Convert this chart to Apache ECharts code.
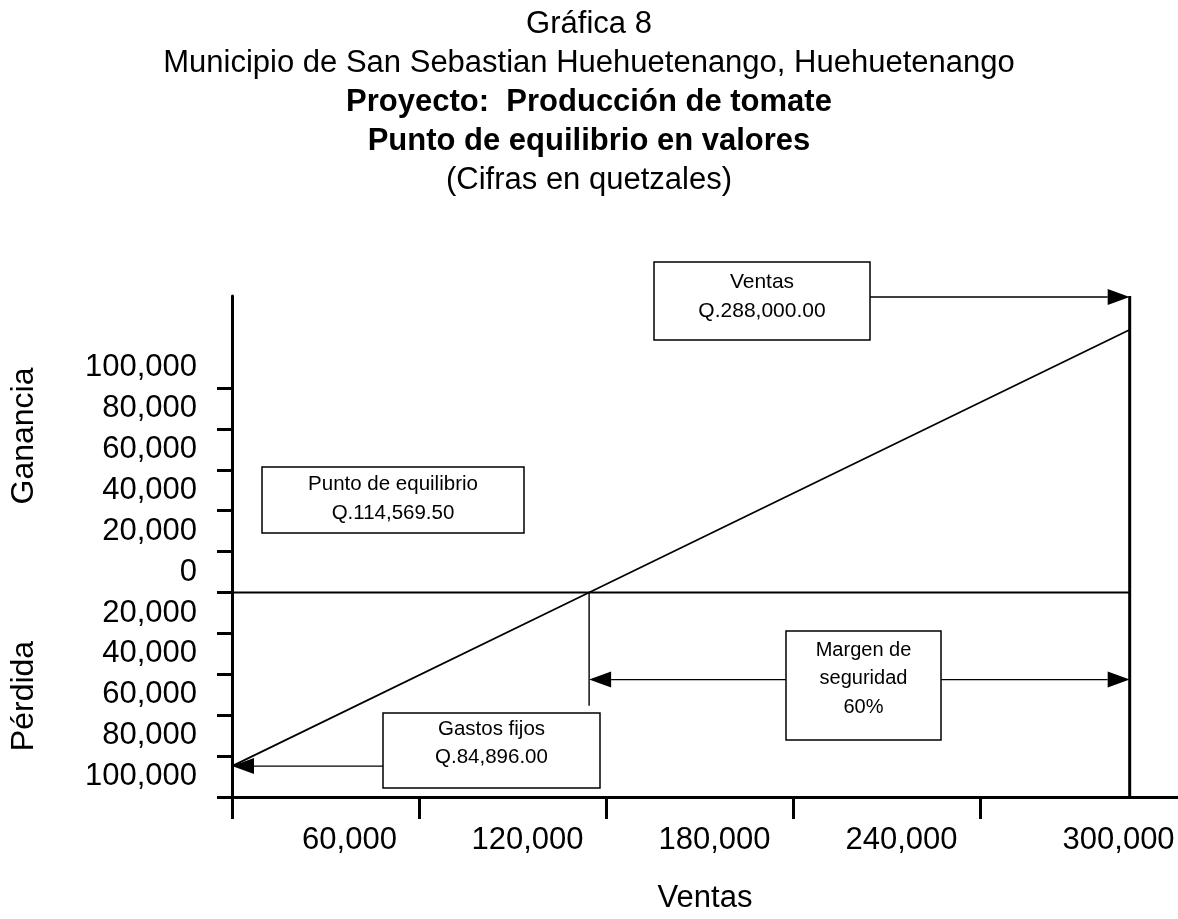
<!DOCTYPE html>
<html>
<head>
<meta charset="utf-8">
<title>Punto de equilibrio en valores</title>
<script src="https://cdn.jsdelivr.net/npm/echarts@6/dist/echarts.min.js"></script>
<style>
  html, body { margin: 0; padding: 0; background: #fff; }
  #chart { width: 1178px; height: 919px; }
</style>
</head>
<body>
<div id="chart"></div>
<script>
// ---- chart data ----
const titleLines = [
  'Gráfica 8',
  'Municipio de San Sebastian Huehuetenango, Huehuetenango',
  'Proyecto:  Producción de tomate',
  'Punto de equilibrio en valores',
  '(Cifras en quetzales)'
];
const boldTitleLines = [2, 3];

const salesTickValues = [0, 60000, 120000, 180000, 240000, 300000];
const salesTickLabels = ['60,000', '120,000', '180,000', '240,000', '300,000'];
const profitTickValues = [100000, 80000, 60000, 40000, 20000, 0, -20000, -40000, -60000, -80000, -100000];
const profitTickLabels = ['100,000', '80,000', '60,000', '40,000', '20,000', '0', '20,000', '40,000', '60,000', '80,000', '100,000'];

const ventas = 288000;            // total sales
const gastosFijos = 84896;        // fixed costs
const puntoEquilibrio = 114569.5; // break-even sales
const lineSales = [0, puntoEquilibrio, ventas];
const lineProfit = [-84896, 0, 128514];

// annotation levels (axis units)
const ventasArrowLevel = 144500;
const margenArrowLevel = -42600;
const equilibrioDropEnd = -55400;

// ---- helpers ----
const FONT = '"Liberation Sans", Arial, Helvetica, sans-serif';
function money(v) {
  const parts = v.toFixed(2).split('.');
  parts[0] = parts[0].replace(/\B(?=(\d{3})+(?!\d))/g, ',');
  return 'Q.' + parts.join('.');
}
const margenPct = Math.round((ventas - puntoEquilibrio) / ventas * 100);

const salesStep = salesTickValues[1] - salesTickValues[0];
const profitStep = profitTickValues[0] - profitTickValues[1];
// labels sit inside the band that ends at their tick
const xLabelValues = salesTickValues.slice(1).map(v => v - salesStep / 2);
const yLabelValues = profitTickValues.map(v => v + profitStep / 2);
const xLabelText = new Map(xLabelValues.map((v, i) => [v, salesTickLabels[i]]));
const yLabelText = new Map(yLabelValues.map((v, i) => [v, profitTickLabels[i]]));

const chart = echarts.init(document.getElementById('chart'), null, { renderer: 'canvas' });

// arrow segments: [fromSales, fromProfit, toSales, toProfit]
const arrows = [
  [204700, ventasArrowLevel, ventas, ventasArrowLevel],
  [48450, -gastosFijos, 0, -gastosFijos],
  [177800, margenArrowLevel, puntoEquilibrio, margenArrowLevel],
  [227500, margenArrowLevel, ventas, margenArrowLevel]
];

function box(x, y, w, h, lines, lineYs, size) {
  const children = [{
    type: 'rect', z: 100,
    shape: { x: x, y: y, width: w, height: h },
    style: { fill: '#fff', stroke: '#000', lineWidth: 1.5 }
  }];
  lines.forEach((t, i) => children.push({
    type: 'text', z: 101,
    style: {
      text: t, x: x + w / 2, y: lineYs[i], align: 'center', verticalAlign: 'middle',
      font: size + 'px ' + FONT, fill: '#000'
    }
  }));
  return { type: 'group', children: children };
}

const option = {
  backgroundColor: '#fff',
  animation: false,
  title: titleLines.map((t, i) => ({
    text: t,
    left: 'center',
    top: 9 + i * 39,
    padding: 0,
    textStyle: {
      fontFamily: FONT, fontSize: 31, color: '#000',
      fontWeight: boldTitleLines.includes(i) ? 'bold' : 'normal'
    }
  })),
  grid: { left: 232, right: 0, top: 296, bottom: 122, containLabel: false },
  xAxis: {
    type: 'value',
    min: 0,
    max: 303500,
    name: 'Ventas',
    nameLocation: 'middle',
    nameGap: 86,
    nameTextStyle: { fontFamily: FONT, fontSize: 31, color: '#000' },
    axisLine: { show: true, onZero: false, lineStyle: { color: '#000', width: 3 } },
    axisTick: {
      show: true, customValues: salesTickValues.slice(0, 5), length: 22,
      lineStyle: { color: '#000', width: 3 }
    },
    axisLabel: {
      customValues: xLabelValues,
      margin: 28,
      fontFamily: FONT, fontSize: 31, color: '#000',
      formatter: function (v) {
        const t = xLabelText.get(v) || '';
        if (t === salesTickLabels[0]) return '{c|' + t + '}';
        return t === salesTickLabels[salesTickLabels.length - 1] ? '{b|' + t + '}' : '{a|' + t + '}';
      },
      rich: {
        a: { fontFamily: FONT, fontSize: 31, color: '#000', padding: [0, 0, 0, 30] },
        b: { fontFamily: FONT, fontSize: 31, color: '#000', padding: [0, 0, 0, 90] },
        c: { fontFamily: FONT, fontSize: 31, color: '#000', padding: [0, 0, 0, 48] }
      }
    },
    splitLine: { show: false }
  },
  yAxis: {
    type: 'value',
    min: -100000,
    max: 145000,
    axisLine: { show: true, onZero: false, lineStyle: { color: '#000', width: 3 } },
    axisTick: {
      show: true, customValues: profitTickValues, length: 15,
      lineStyle: { color: '#000', width: 3 }
    },
    axisLabel: {
      customValues: yLabelValues,
      margin: 35,
      fontFamily: FONT, fontSize: 31, color: '#000',
      formatter: v => yLabelText.get(v) || ''
    },
    splitLine: { show: false }
  },
  series: [
    {
      name: 'Resultado', type: 'line', symbol: 'none', z: 3,
      data: lineSales.map((s, i) => [s, lineProfit[i]]),
      lineStyle: { color: '#000', width: 1.8 }
    },
    {
      name: 'Cero', type: 'line', symbol: 'none', z: 3,
      data: [[0, 0], [ventas, 0]],
      lineStyle: { color: '#000', width: 2 }
    },
    {
      name: 'Ventas', type: 'line', symbol: 'none', z: 4,
      data: [[ventas, -100000], [ventas, 145000]],
      lineStyle: { color: '#000', width: 3 }
    },
    {
      name: 'Equilibrio', type: 'line', symbol: 'none', z: 3,
      data: [[puntoEquilibrio, 0], [puntoEquilibrio, equilibrioDropEnd]],
      lineStyle: { color: '#000', width: 1.4 }
    },
    {
      name: 'Flechas', type: 'custom', z: 5, clip: false,
      data: arrows,
      renderItem: function (params, api) {
        const p1 = api.coord([api.value(0), api.value(1)]);
        const p2 = api.coord([api.value(2), api.value(3)]);
        const ang = Math.atan2(p2[1] - p1[1], p2[0] - p1[0]);
        const L = 22, W = 8;
        const c = Math.cos(ang), s = Math.sin(ang);
        const base = [p2[0] - L * c, p2[1] - L * s];
        return {
          type: 'group',
          children: [
            { type: 'line', shape: { x1: p1[0], y1: p1[1], x2: base[0], y2: base[1] },
              style: { stroke: '#000', lineWidth: 1.4 } },
            { type: 'polygon',
              shape: { points: [p2, [base[0] + W * s, base[1] - W * c], [base[0] - W * s, base[1] + W * c]] },
              style: { fill: '#000' } }
          ]
        };
      }
    }
  ],
  graphic: [
    {
      type: 'text', z: 100, x: 24, y: 436, rotation: Math.PI / 2,
      style: { text: 'Ganancia', font: '32px ' + FONT, fill: '#000', align: 'center', verticalAlign: 'middle' }
    },
    {
      type: 'text', z: 100, x: 24, y: 696, rotation: Math.PI / 2,
      style: { text: 'Pérdida', font: '32px ' + FONT, fill: '#000', align: 'center', verticalAlign: 'middle' }
    },
    box(654, 262, 216, 78, ['Ventas', money(ventas)], [282, 311], 21),
    box(262, 467, 262, 66, ['Punto de equilibrio', money(puntoEquilibrio)], [484, 513], 20.5),
    box(383, 713, 217, 75, ['Gastos fijos', money(gastosFijos)], [729, 757], 20.5),
    box(786, 631, 155, 109, ['Margen de', 'seguridad', margenPct + '%'], [650, 678, 707], 20)
  ]
};

chart.setOption(option);
</script>
</body>
</html>
